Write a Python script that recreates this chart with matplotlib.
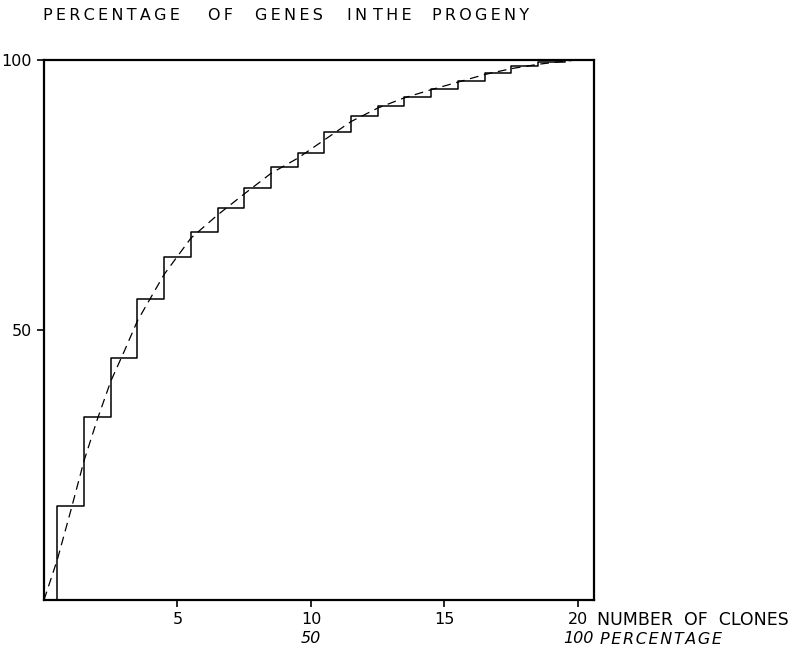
import numpy as np
import matplotlib
matplotlib.use('Agg')
import matplotlib.pyplot as plt

plt.rcParams.update({
    'font.family': 'DejaVu Sans',
})

# Number of clones (0 added so the staircase starts on the axis)
clones = [0, 1, 2, 3, 4, 5, 6, 7, 8, 9, 10, 11, 12, 13, 14, 15, 16, 17, 18, 19, 20]
# Cumulative percentage of genes
gene_pct = [0, 17.4, 33.9, 44.9, 55.7, 63.6, 68.2, 72.6, 76.3, 80.2, 82.8,
            86.6, 89.7, 91.5, 93.2, 94.6, 96.2, 97.6, 98.8, 99.7, 100]

# Dashed smooth curve
curve_x = [0, 0.5, 1, 1.5, 2, 2.5, 3, 3.5, 4.5, 5.5, 6.5, 7.5, 8.5, 9.5, 10.5,
           11.5, 12.5, 13.5, 14.5, 15.5, 16.5, 17.5, 18.5, 19.5, 20]
curve_y = [0, 7.5, 16.5, 25.8, 33.5, 40.5, 46.0, 51.7, 60.3, 67.0, 71.3, 75.2,
           79.0, 81.8, 85.2, 88.6, 91.1, 93.0, 94.5, 95.9, 97.3, 98.4, 99.2,
           99.8, 100]

x_ticks = [5, 10, 15, 20]
y_ticks = [50, 100]
pct_ticks = [50, 100]

W, H = 805, 650


# wide lettering: put each word at its own x (in pixels), letters spread out
def wide_words(words, xs, y, sep='\u2009', ha='left', **kw):
    for w, x in zip(words, xs):
        fig.text(x / W, 1 - y / H, sep.join(w), va='center', ha=ha, **kw)


fig = plt.figure(figsize=(W/100, H/100), dpi=100)
ax = fig.add_axes([44/W, 1 - 600/H, 550/W, 540/H])

ax.step(clones, gene_pct, where='mid', color='black', lw=1.1)
ax.plot(curve_x, curve_y, color='black', lw=0.9, dashes=(7, 4.5))

ax.set_xlim(0, 20.6)
ax.set_ylim(0, 100)
ax.set_xticks(x_ticks)
ax.set_yticks(y_ticks)
ax.tick_params(direction='out', length=5, width=1.2, labelsize=11.5, pad=4)
for s in ax.spines.values():
    s.set_linewidth(1.6)

# Second scale: clones as percentage of the 20 clones
sec = ax.secondary_xaxis(-0.048, functions=(lambda x: x*5, lambda p: p/5))
sec.set_xticks(pct_ticks)
sec.spines['bottom'].set_visible(False)
sec.tick_params(length=0, labelsize=11.5, pad=4)
for lab in sec.get_xticklabels():
    lab.set_fontstyle('italic')

fig.text(597/W, 1 - 620/H, 'NUMBER  OF  CLONES', va='center', ha='left', fontsize=12.5)
wide_words(['PERCENTAGE'], [600], 639, sep='\u200a', fontsize=11.5, style='italic')
wide_words(['PERCENTAGE', 'OF', 'GENES', 'IN', 'THE', 'PROGENY'],
           [43, 208, 255, 347, 373, 432], 16, fontsize=11.5)

fig.savefig('out.png', dpi=100)
